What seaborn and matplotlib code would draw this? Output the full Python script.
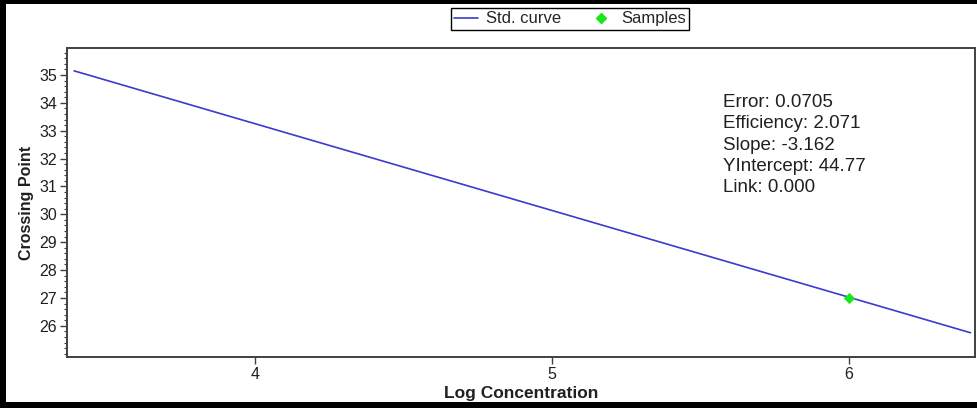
import matplotlib
matplotlib.use("Agg")
import matplotlib.pyplot as plt
from matplotlib.patches import Rectangle
from matplotlib.lines import Line2D
from matplotlib.ticker import MultipleLocator
import seaborn as sns
import pandas as pd

# Data
curve_x = [3.39, 6.41]
curve_y = [35.15, 25.75]
sample_x = [6.0]
sample_y = [27.0]
x_ticks = [4, 5, 6]
y_ticks = [26, 27, 28, 29, 30, 31, 32, 33, 34, 35]
stats_lines = ["Error: 0.0705", "Efficiency: 2.071", "Slope: -3.162",
               "YIntercept: 44.77", "Link: 0.000"]

sns.set_theme(style="white")
plt.rcParams['font.family'] = ['Liberation Sans', 'DejaVu Sans']

fig = plt.figure(figsize=(9.77, 4.08), dpi=100)
ax = fig.add_axes([67/977, 1 - 357/408, (975-67)/977, (357-48)/408])

curve = pd.DataFrame({"x": curve_x, "y": curve_y})
samples = pd.DataFrame({"x": sample_x, "y": sample_y})
line_color = "#3b3bcf"
green = "#19e619"
sns.lineplot(data=curve, x="x", y="y", ax=ax, color=line_color, linewidth=1.2, legend=False)
sns.scatterplot(data=samples, x="x", y="y", ax=ax, color=green, marker="D", s=28,
                edgecolor=green, zorder=5, legend=False)

ax.set_xlim(3.366, 6.425)
ax.set_ylim(24.88, 35.97)
ax.set_xticks(x_ticks)
ax.set_yticks(y_ticks)
ax.yaxis.set_minor_locator(MultipleLocator(0.2))
ax.tick_params(axis='both', which='major', direction='out', length=5, width=1,
               color='#404040', labelsize=11.5, labelcolor='#202020', pad=2, left=True, bottom=True)
ax.tick_params(axis='y', which='minor', direction='out', length=2.5, width=0.8,
               color='#404040', left=True)
for s in ax.spines.values():
    s.set_color('#404040')
    s.set_linewidth(1.4)

ax.set_xlabel("Log Concentration", fontsize=12.5, fontweight='bold', color='#202020', labelpad=3)
ax.set_ylabel("Crossing Point", fontsize=11.5, fontweight='bold', color='#202020', labelpad=4)

ax.text(723/977, 1 - 94/408, "\n".join(stats_lines), transform=fig.transFigure,
        fontsize=13.5, color='#202020', va='top', ha='left', linespacing=1.33)

handles = [Line2D([0], [0], color=line_color, lw=1.2),
           Line2D([0], [0], color=green, marker='D', markersize=5, lw=0)]
leg = fig.legend(handles, ["Std. curve", "Samples"], loc='upper center',
                 bbox_to_anchor=(570/977, 1 - 8/408), ncol=2, fontsize=12,
                 frameon=True, fancybox=False, edgecolor='black', framealpha=1,
                 handlelength=1.4, handletextpad=0.5, columnspacing=1.7,
                 borderpad=0.2, borderaxespad=0)
leg.get_frame().set_linewidth(1.0)

# outer black frame (top, left, bottom)
fig.patches.append(Rectangle((0, 1 - 3.5/408), 1, 3.5/408, transform=fig.transFigure,
                             facecolor='black', edgecolor='none', zorder=10))
fig.patches.append(Rectangle((0, 0), 6/977, 1, transform=fig.transFigure,
                             facecolor='black', edgecolor='none', zorder=10))
fig.patches.append(Rectangle((0, 0), 1, 6/408, transform=fig.transFigure,
                             facecolor='black', edgecolor='none', zorder=10))

fig.savefig("out.png", dpi=100, facecolor='white')
